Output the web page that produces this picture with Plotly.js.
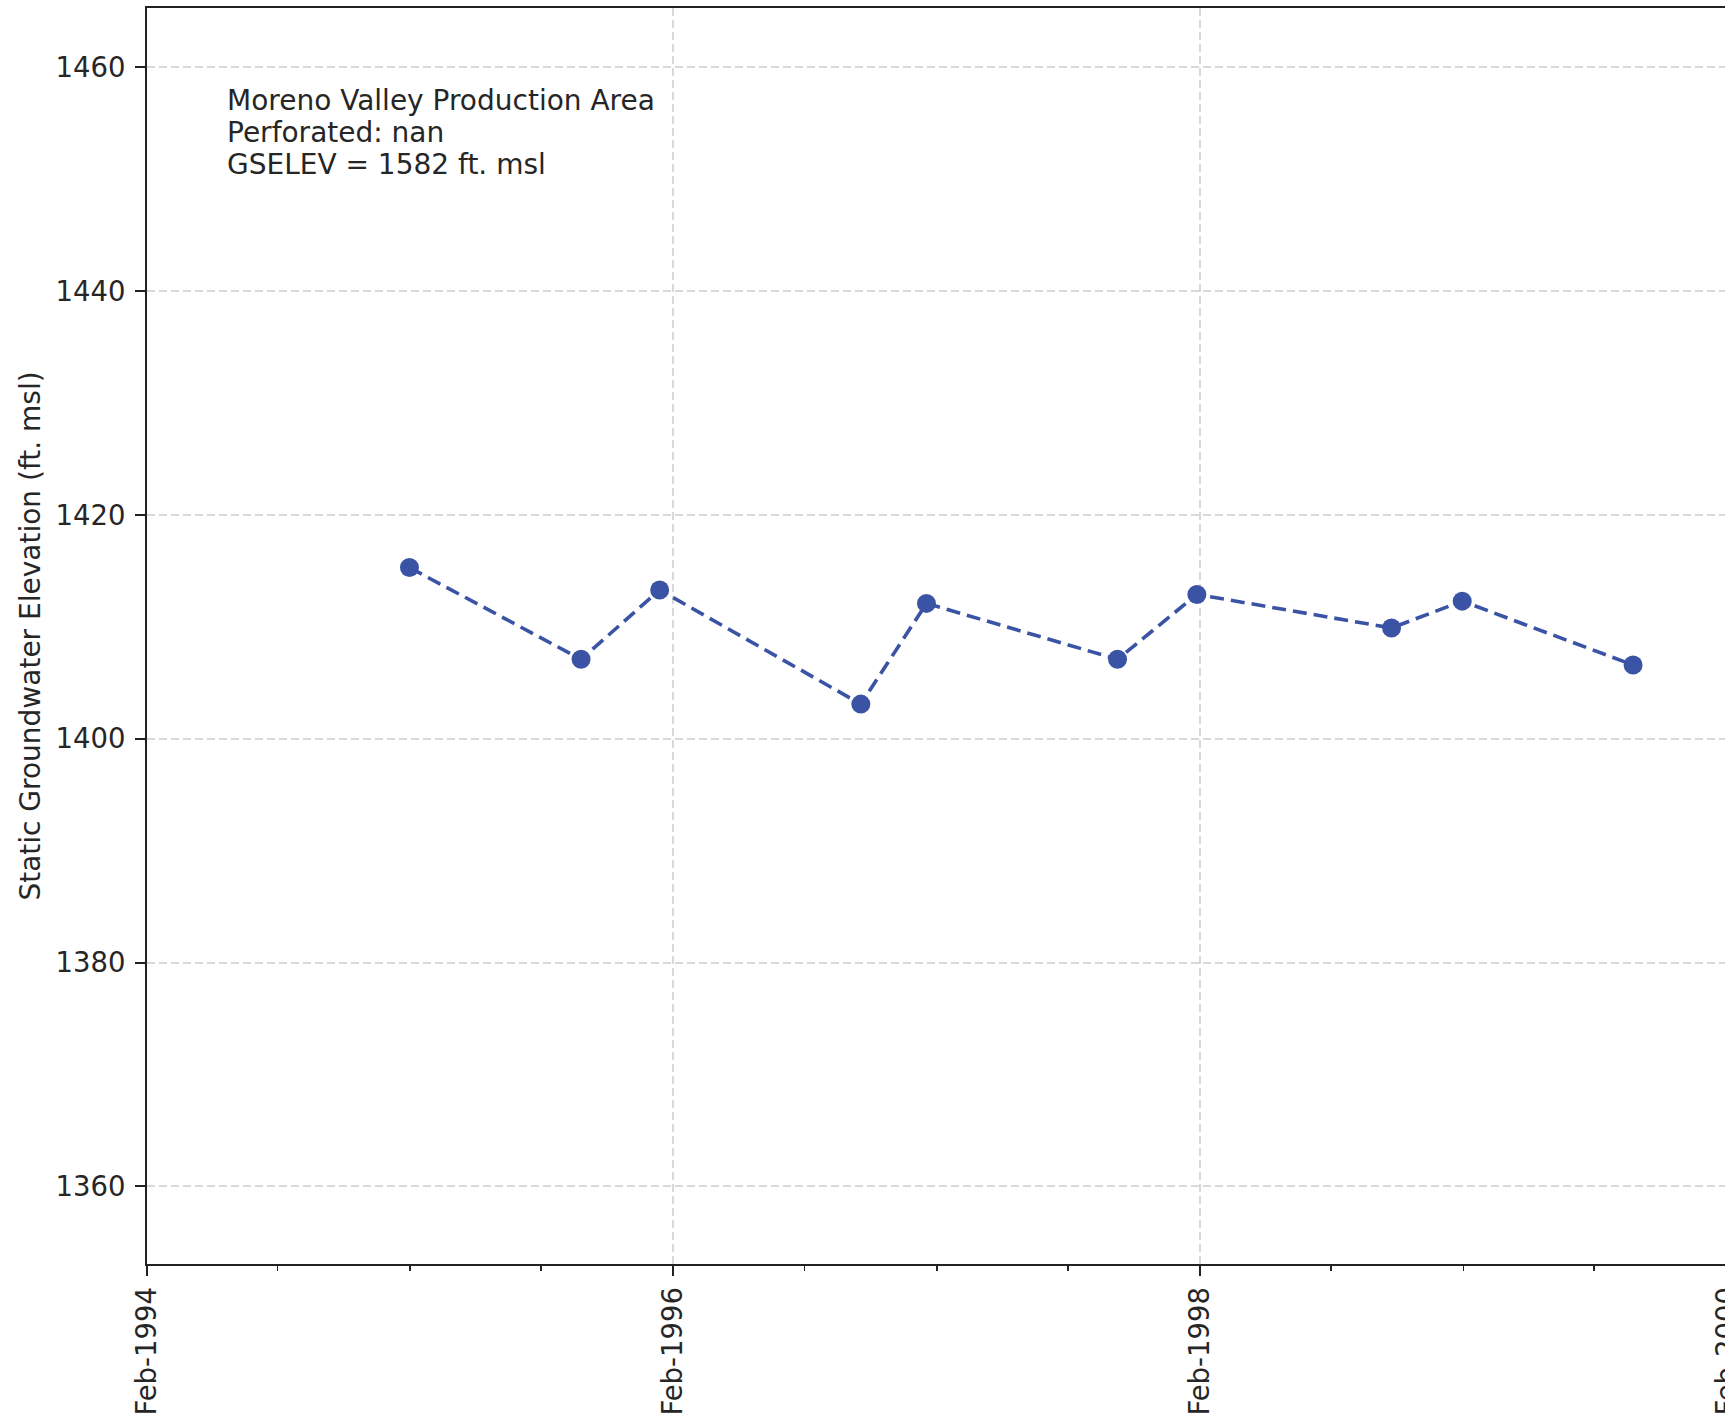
<!DOCTYPE html>
<html>
<head>
<meta charset="utf-8">
<script src="https://cdn.plot.ly/plotly-3.0.1.min.js"></script>
<style>
  html, body { margin: 0; padding: 0; overflow: hidden; background: #ffffff; }
  #chart { width: 1960px; height: 1419px; }
</style>
</head>
<body>
<div id="chart"></div>
<script>
// Measurement dates and static groundwater elevations (ft. msl)
const dates = ["1995-01-31", "1995-09-26", "1996-01-13", "1996-10-18", "1997-01-17",
               "1997-10-09", "1998-01-27", "1998-10-24", "1999-01-30", "1999-09-24"];
const elevations = [1415.3, 1407.1, 1413.3, 1403.1, 1412.1,
                    1407.1, 1412.9, 1409.9, 1412.3, 1406.6];
const infoLines = ["Moreno Valley Production Area", "Perforated: nan", "GSELEV = 1582 ft. msl"];
const yTitle = "Static Groundwater Elevation (ft. msl)";
const xRange = ["1994-02-01", "2000-09-24"];
const yRange = [1353.07, 1465.3];

const FONT = "DejaVu Sans, Verdana, sans-serif";
const TXT = "#262626";
const BLUE = "#3a53a4";

const trace = {
  type: "scatter",
  mode: "lines+markers",
  x: dates,
  y: elevations,
  line: { color: BLUE, width: 3.6, dash: "14px,7px" },
  marker: { color: BLUE, size: 19 },
  showlegend: false,
  hoverinfo: "x+y"
};

const lineYs = [0.926, 0.9006, 0.8751];
const annotations = infoLines.map((t, i) => ({
  text: t,
  xref: "paper", yref: "paper",
  x: 0.0445, y: lineYs[i],
  xanchor: "left", yanchor: "middle",
  showarrow: false,
  font: { family: FONT, size: 28, color: TXT }
}));

const layout = {
  width: 1960,
  height: 1419,
  margin: { l: 147, r: 63, t: 8, b: 155, autoexpand: false },
  paper_bgcolor: "#ffffff",
  plot_bgcolor: "#ffffff",
  font: { family: FONT, size: 28, color: TXT },
  showlegend: false,
  xaxis: {
    type: "date",
    range: xRange,
    tick0: "1994-02-01",
    dtick: "M24",
    tickformat: "%b-%Y",
    tickangle: -90,
    ticks: "outside",
    ticklen: 10,
    tickwidth: 2,
    tickcolor: "#222",
    tickfont: { family: FONT, size: 27.5, color: TXT },
    showline: true,
    linecolor: "#222",
    linewidth: 2,
    mirror: true,
    showgrid: true,
    gridcolor: "#d9d9d9",
    gridwidth: 2,
    griddash: "8px,4px",
    zeroline: false,
    automargin: false,
    minor: {
      dtick: "M6",
      tick0: "1994-02-01",
      ticks: "outside",
      ticklen: 5,
      tickwidth: 1.6,
      tickcolor: "#222",
      showgrid: false
    }
  },
  yaxis: {
    range: yRange,
    tick0: 1360,
    dtick: 20,
    ticks: "outside",
    ticklen: 10,
    tickwidth: 2,
    tickcolor: "#222",
    tickfont: { family: FONT, size: 27.5, color: TXT },
    ticklabelstandoff: 4,
    showline: true,
    linecolor: "#222",
    linewidth: 2,
    mirror: true,
    showgrid: true,
    gridcolor: "#d9d9d9",
    gridwidth: 2,
    griddash: "8px,4px",
    zeroline: false,
    automargin: false,
    title: { text: yTitle, font: { family: FONT, size: 28, color: TXT }, standoff: 7 }
  },
  annotations: annotations
};

Plotly.newPlot("chart", [trace], layout, { displayModeBar: false, staticPlot: true });
</script>
</body>
</html>
